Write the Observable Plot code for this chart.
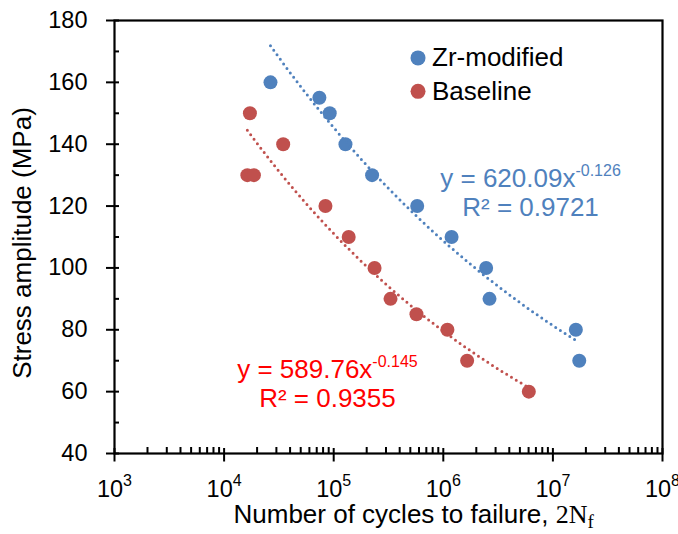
<!DOCTYPE html>
<html><head><meta charset="utf-8">
<script src="https://cdn.jsdelivr.net/npm/d3@7"></script>
<script src="https://cdn.jsdelivr.net/npm/@observablehq/plot@0.6"></script>
<style>body{margin:0;background:#fff;}</style>
</head><body><div id="chart"></div>
<script>
// ---- data ----
const seriesNames = ["Zr-modified", "Baseline"];
const zrCycles   = [26500, 74000, 92000, 128000, 224000, 578000, 1190000, 2460000, 2640000, 16200000, 17400000];
const zrStress   = [160, 155, 150, 140, 130, 120, 110, 100, 90, 80, 70];
const baseCycles = [17200, 34600, 16300, 18700, 84100, 137000, 236000, 330000, 569000, 1090000, 1650000, 6030000];
const baseStress = [150, 140, 130, 130, 120, 110, 100, 90, 85, 80, 70, 60];
// power-law trendlines printed on the chart: y = a * x^b
const fitCoef = [620.09, 589.76];
const fitExp  = [-0.126, -0.145];
const fitR2   = ["0.9721", "0.9355"];
// ticks
const xTicksMajor = [1e3, 1e4, 1e5, 1e6, 1e7, 1e8];
const xTicksMinor = [1e3, 1e4, 1e5, 1e6, 1e7].flatMap(p => [2,3,4,5,6,7,8,9].map(m => m * p));
const yTicksMajor = [40, 60, 80, 100, 120, 140, 160, 180];
const yTicksMinor = [50, 70, 90, 110, 130, 150, 170];
const xTitle = "Number of cycles to failure, 2N_f";
const yTitle = "Stress amplitude (MPa)";

// ---- styles / annotation positions ----
const dotColors = ["#4F81BD", "#C0504D"];
const eqColors  = ["#4F81BD", "#FF0000"];
const eqPos = [{x: 6.25e6, y1: 126.1, y2: 116.95}, {x: 8.77e4, y1: 64.3, y2: 55.0}];
const legendPos = {x: 5.88e5, y: [167.9, 157.1]};
const tickFont = 23.5;

const points = [
  ...zrCycles.map((c, i) => ({series: seriesNames[0], x: c, y: zrStress[i]})),
  ...baseCycles.map((c, i) => ({series: seriesNames[1], x: c, y: baseStress[i]}))
];
function trend(k, xs) {
  const [lo, hi] = d3.extent(xs);
  return d3.range(0, 81).map(i => {
    const x = lo * Math.pow(hi / lo, i / 80);
    return {x, y: fitCoef[k] * Math.pow(x, fitExp[k])};
  });
}
const trendZr = trend(0, zrCycles);
const trendBase = trend(1, baseCycles);

const eqRows = seriesNames.map((s, k) => ({
  k, x: eqPos[k].x, y1: eqPos[k].y1, y2: eqPos[k].y2,
  line1: `y = ${fitCoef[k]}x^${fitExp[k]}`,
  line2: `R² = ${fitR2[k]}`
}));
const legendRows = seriesNames.map((s, k) => ({k, name: s, x: legendPos.x, y: legendPos.y[k]}));

const chart = Plot.plot({
  width: 678, height: 534,
  marginLeft: 114, marginRight: 16, marginTop: 20, marginBottom: 81,
  x: {type: "log", domain: [1e3, 1e8]},
  y: {domain: [40, 180]},
  style: {fontFamily: "'Liberation Sans', Arial, sans-serif", color: "#000", background: "#fff", overflow: "visible"},
  marks: [
    Plot.axisY({ticks: yTicksMajor, tickSize: 13, dx: 5, fill: "none", label: null, strokeWidth: 2, stroke: "#000"}),
    Plot.axisY({ticks: yTicksMinor, tickSize: 5, dx: 5, fill: "none", label: null, strokeWidth: 2, stroke: "#000"}),
    Plot.axisX({ticks: xTicksMajor, tickSize: 13.5, dy: -5, fill: "none", label: null, strokeWidth: 2, stroke: "#000"}),
    Plot.axisX({ticks: xTicksMinor, tickSize: 6, dy: -6, fill: "none", label: null, strokeWidth: 2, stroke: "#000"}),
    // tick labels drawn through the scales
    Plot.text(yTicksMajor, {y: d => d, frameAnchor: "left", dx: -27, textAnchor: "end", lineAnchor: "middle",
      text: d => String(d), fontSize: tickFont, fill: "#000"}),
    Plot.text(xTicksMajor, {x: d => d, frameAnchor: "bottom", dy: 27, textAnchor: "middle", lineAnchor: "top",
      text: d => "10^" + Math.round(Math.log10(d)), fontSize: tickFont, fill: "#000"}),
    Plot.frame({stroke: "#000", strokeWidth: 2.2}),
    Plot.dot(points.filter(d => d.series === seriesNames[0]), {x: "x", y: "y", r: 7, fill: dotColors[0], stroke: null}),
    Plot.dot(points.filter(d => d.series === seriesNames[1]), {x: "x", y: "y", r: 7, fill: dotColors[1], stroke: null}),
    Plot.line(trendZr, {x: "x", y: "y", stroke: dotColors[0], strokeWidth: 3, strokeDasharray: "0 5.6", strokeLinecap: "round"}),
    Plot.line(trendBase, {x: "x", y: "y", stroke: dotColors[1], strokeWidth: 3, strokeDasharray: "0 5.6", strokeLinecap: "round"}),
    Plot.text(eqRows, {x: "x", y: "y1", text: "line1", fill: d => eqColors[d.k], fontSize: 26, textAnchor: "middle", lineAnchor: "bottom"}),
    Plot.text(eqRows, {x: "x", y: "y2", text: "line2", fill: d => eqColors[d.k], fontSize: 26, textAnchor: "middle", lineAnchor: "bottom"}),
    Plot.dot(legendRows, {x: "x", y: "y", r: 7.5, fill: d => dotColors[d.k]}),
    Plot.text(legendRows, {x: "x", y: "y", text: "name", dx: 14, fontSize: 26, textAnchor: "start", lineAnchor: "middle", fill: "#000"}),
    Plot.text([yTitle], {text: d => d, frameAnchor: "left", rotate: -90, textAnchor: "middle", lineAnchor: "middle", dx: -92, dy: 6, fontSize: 26, fill: "#000"}),
    Plot.text([xTitle], {text: d => d, frameAnchor: "bottom-left", textAnchor: "start", lineAnchor: "bottom", dx: 119, dy: 69, fontSize: 26, fill: "#000"})
  ]
});

document.getElementById("chart").appendChild(chart);

// superscripts "^" and the 2N_f label
d3.select(chart).selectAll("text").each(function () {
  const t = this.textContent;
  if (this.querySelector("tspan")) return;
  if (t === xTitle) {
    this.textContent = "";
    const s = d3.select(this);
    s.append("tspan").text("Number of cycles to failure, ");
    s.append("tspan").attr("font-family", "'Liberation Serif', 'DejaVu Serif', serif").text("2N");
    s.append("tspan").attr("font-family", "'Liberation Serif', 'DejaVu Serif', serif")
      .attr("font-size", "19px").attr("dy", "0.3em").text("f");
    return;
  }
  const i = t.indexOf("^");
  if (i >= 0) {
    this.textContent = "";
    const s = d3.select(this);
    s.append("tspan").text(t.slice(0, i));
    s.append("tspan").attr("font-size", "16px").attr("dy", "-0.7em").text(t.slice(i + 1));
  }
});
</script>
</body></html>
